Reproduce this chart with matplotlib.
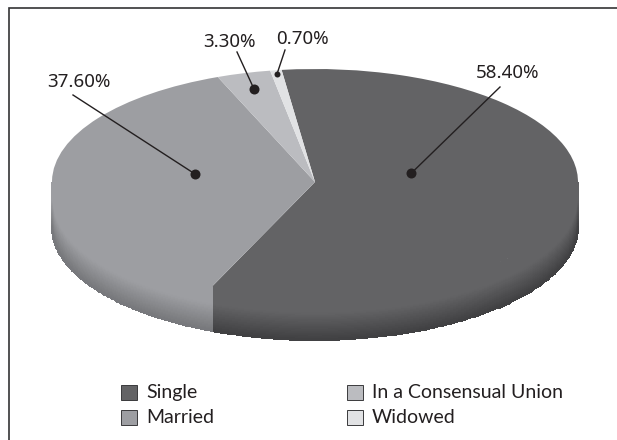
import numpy as np
import matplotlib
matplotlib.use("Agg")
import matplotlib.pyplot as plt
from matplotlib.colors import LinearSegmentedColormap
from matplotlib.patches import Rectangle

W, H = 617, 440

categorias = ["Single", "Married", "In a Consensual Union", "Widowed"]
valores = [58.4, 37.6, 3.3, 0.7]
etiquetas = ["58.40%", "37.60%", "3.30%", "0.70%"]
colores = ["#636365", "#9d9ea2", "#bbbcc0", "#e1e2e4"]
oscuros = ["#404042", "#77787b", "#77787b", "#909194"]

# geometria de la elipse en pixeles
cx, cy, a, b, prof = 315, 182, 263, 113, 45
inicio = 97.3  # angulo de inicio, sentido horario


def px(x, y):
    return (x - cx) / a, (cy - y) / b


fig = plt.figure(figsize=(W / 100, H / 100), dpi=100)
ax = fig.add_axes([0, 0, 1, 1])

# pared lateral con degradado
ang = inicio
total = sum(valores)
for val, c1, c2 in zip(valores, colores, oscuros):
    fin = ang - val / total * 360
    t = np.radians(np.linspace(fin, ang, 300))
    vis = np.sin(t) <= 0
    if vis.sum() > 1:
        t = t[vis]
        z = np.linspace(0, 1, 40)
        T, Z = np.meshgrid(t, z)
        X = np.cos(T)
        Y = np.sin(T) - Z * prof / b
        cmap = LinearSegmentedColormap.from_list("m", [(0, c1), (0.4, c1), (1, c2)])
        ax.pcolormesh(X, Y, Z[:-1, :-1], cmap=cmap, vmin=0, vmax=1, shading="flat",
                      edgecolors="face", linewidth=0.3, zorder=1)
    ang = fin

wedges, _ = ax.pie(valores, colors=colores, startangle=inicio, counterclock=False,
                   radius=1, center=(0, 0))
for w in wedges:
    w.set_zorder(2)
    w.set_edgecolor("none")

ax.set_aspect("auto")
ax.set_xlim(px(0, 0)[0], px(W, 0)[0])
ax.set_ylim(px(0, H)[1], px(0, 0)[1])
ax.axis("off")

# marco: solo arriba y a la izquierda
ax.plot(*zip(px(9, H), px(9, 8.5), px(W, 8.5)), color="#333335", lw=1.2, zorder=5,
        solid_joinstyle="miter")

# etiquetas con lineas guia
txt_pos = [(508, 73), (79, 82), (229, 42), (302, 39)]
linea_ini = [(500, 87), (73, 95), (237, 52), (285, 50)]
puntos = [(411.5, 173), (195, 174), (254, 89), (277, 74)]
diam = [10, 10, 10, 6]
for et, tp, li, pu, d in zip(etiquetas, txt_pos, linea_ini, puntos, diam):
    ax.plot(*zip(px(*li), px(*pu)), color="#231f20", lw=1.0, zorder=6)
    ax.plot(*px(*pu), "o", ms=d * 0.72, color="#231f20", mew=0, zorder=7)
    ax.text(*px(*tp), et, fontsize=13.5, family="Noto Sans", color="#231f20",
            ha="center", va="center", zorder=8)

# leyenda
orden = [0, 2, 1, 3]
for i, xl, yl in zip(orden, [121, 347, 121, 347], [392.5, 392.5, 417.5, 417.5]):
    x_a, y_a = px(xl, yl + 7.5)
    x_b, y_b = px(xl + 16, yl - 7.5)
    ax.add_patch(Rectangle((x_a, y_a), x_b - x_a, y_b - y_a, fc=colores[i], ec="#3a3a3c", lw=0.7, zorder=6))
    ax.text(*px(xl + 25, yl), categorias[i], fontsize=14, family="Lato", color="#231f20",
            ha="left", va="center", zorder=6)

fig.savefig("out.png", dpi=100)
